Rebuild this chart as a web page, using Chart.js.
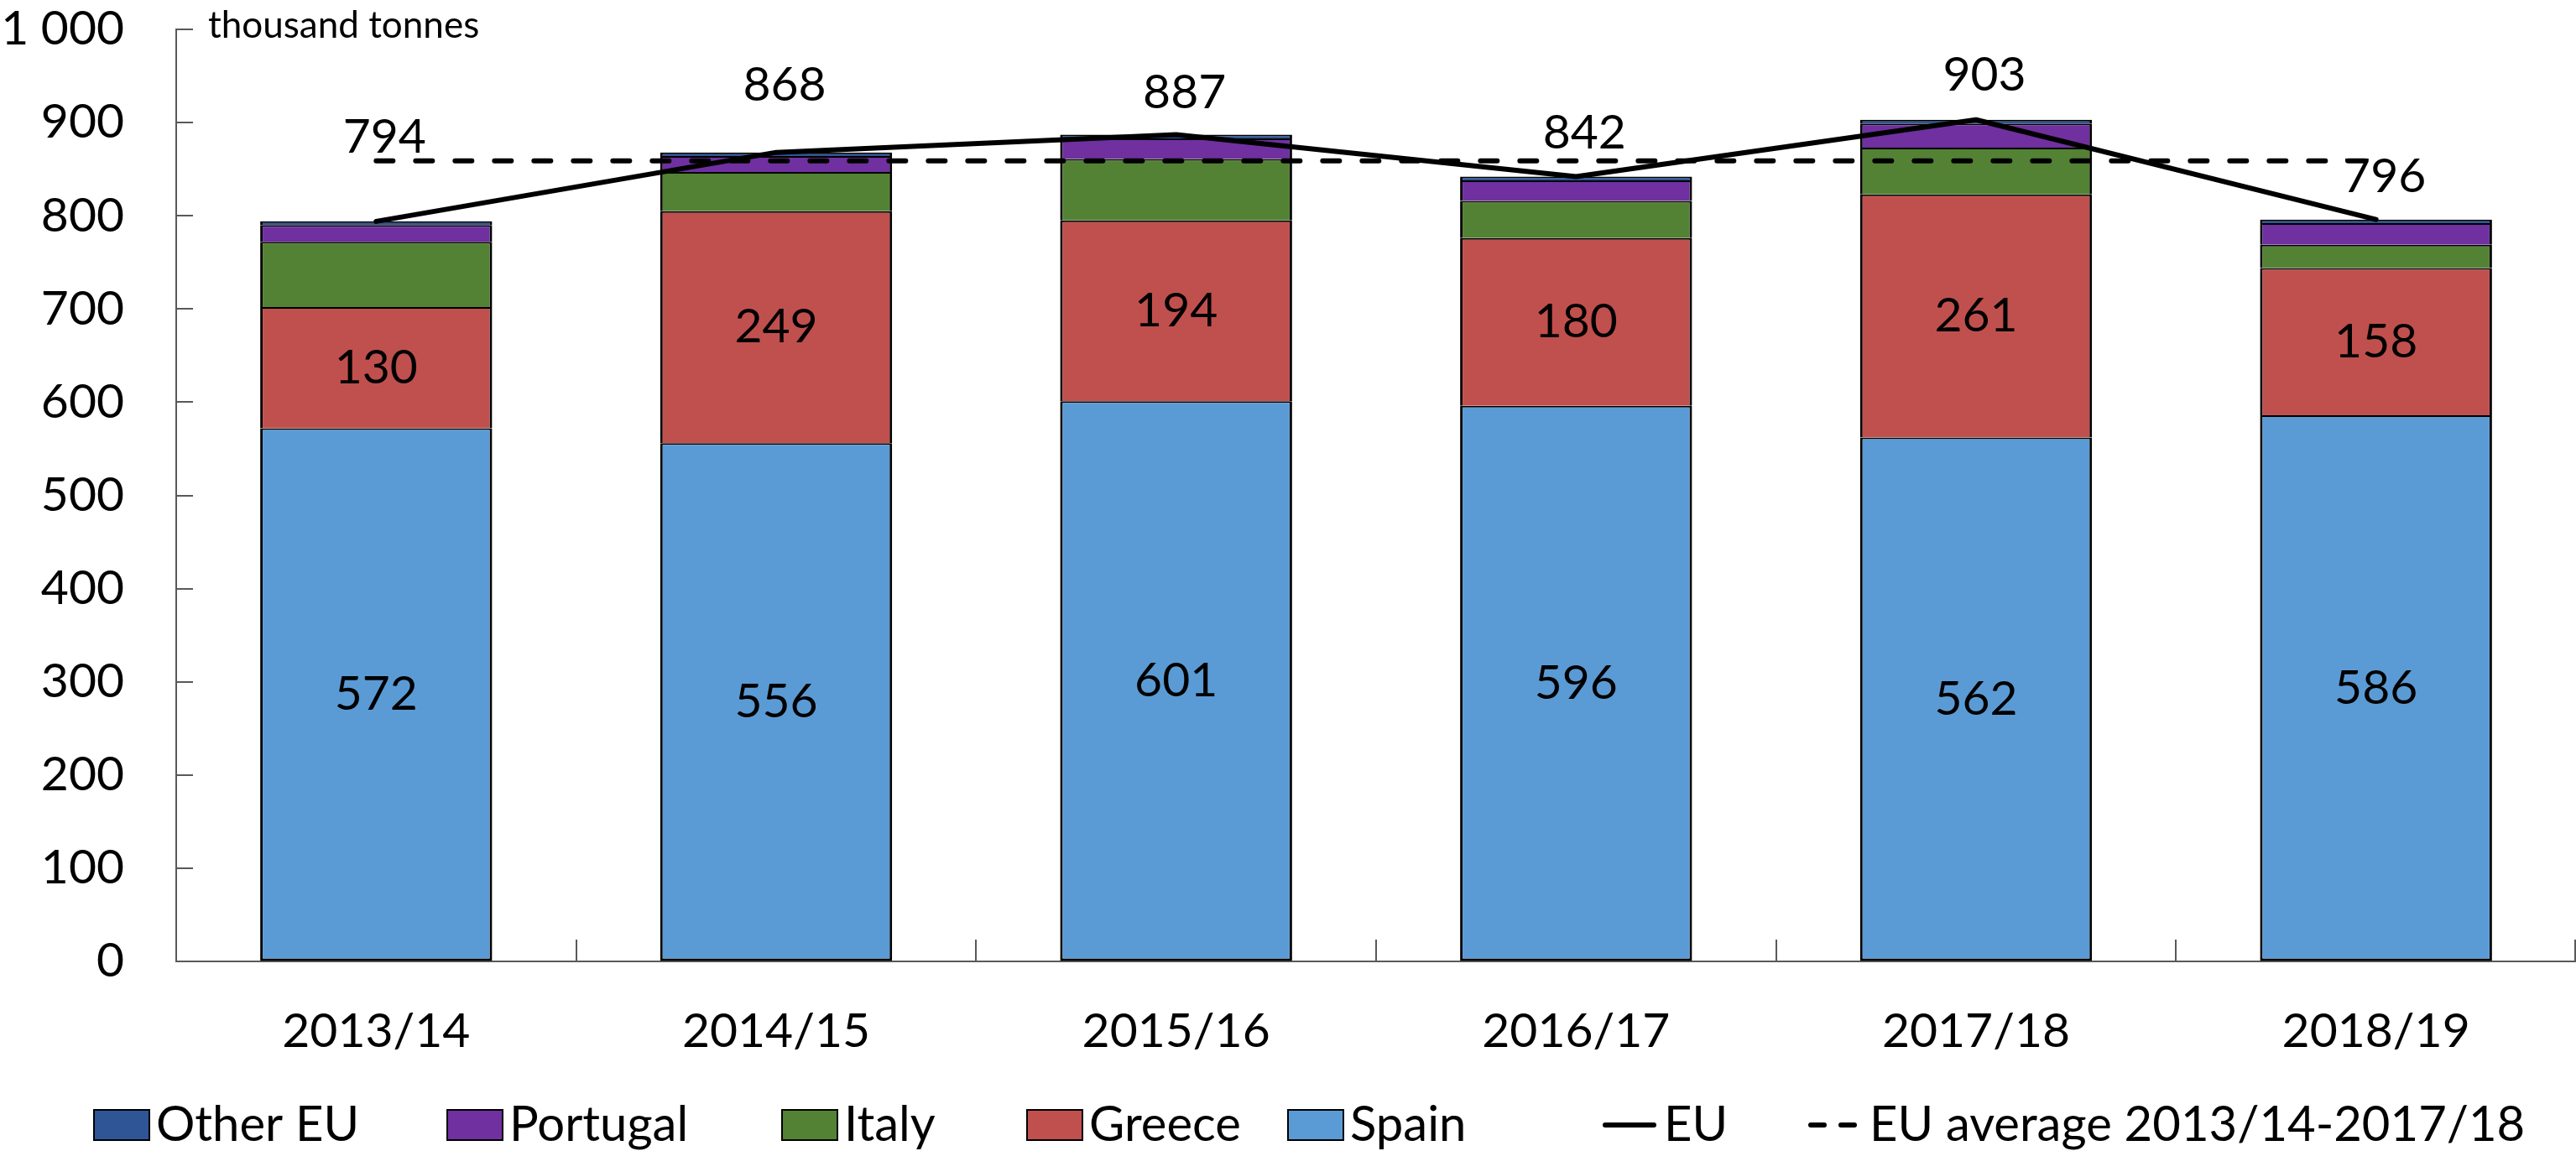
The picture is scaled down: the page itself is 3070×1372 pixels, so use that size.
<!DOCTYPE html>
<html><head><meta charset="utf-8">
<script src="https://cdn.jsdelivr.net/npm/chart.js@4.4.0/dist/chart.umd.min.js"></script>
<style>html,body{margin:0;padding:0;background:#fff;}canvas{display:block;}</style>
</head><body>
<canvas id="c" width="3070" height="1372" style="width:3070px;height:1372px"></canvas>
<script>
// ---- data ----
const categories = ['2013/14', '2014/15', '2015/16', '2016/17', '2017/18', '2018/19'];
const spain     = [572, 556, 601, 596, 562, 586];
const greece    = [130, 249, 194, 180, 261, 158];
const italy     = [70, 42, 66, 40, 50, 25];
const portugal  = [18, 17, 22, 22, 26, 23];
const otherEU   = [4, 4, 4, 4, 4, 4];
const euTotal   = [794, 868, 887, 842, 903, 796];
const euAverage = [859, 859, 859, 859, 859, 859];
const yTickValues = [0, 100, 200, 300, 400, 500, 600, 700, 800, 900, 1000];
const yTickLabels = ['0', '100', '200', '300', '400', '500', '600', '700', '800', '900', '1 000'];
const unitLabel = 'thousand tonnes';
const legendOrder = ['Other EU', 'Portugal', 'Italy', 'Greece', 'Spain', 'EU', 'EU average 2013/14-2017/18'];

const FONT = 'Lato';
const AXIS_COLOR = '#595959';

const barCommon = {
  type: 'bar', stack: 'bars', order: 2,
  borderColor: '#000000', borderWidth: {top: 2, left: 3, right: 3, bottom: 0}, borderSkipped: false,
  barPercentage: 0.58, categoryPercentage: 1.0, pointStyle: 'rect'
};

const data = {
  labels: categories,
  datasets: [
    Object.assign({}, barCommon, {label: 'Spain', data: spain, backgroundColor: '#5B9BD5', showValues: true,
      borderWidth: {top: 2, left: 3, right: 3, bottom: 3}}),
    Object.assign({}, barCommon, {label: 'Greece', data: greece, backgroundColor: '#C0504D', showValues: true}),
    Object.assign({}, barCommon, {label: 'Italy', data: italy, backgroundColor: '#548235'}),
    Object.assign({}, barCommon, {label: 'Portugal', data: portugal, backgroundColor: '#7030A0'}),
    Object.assign({}, barCommon, {label: 'Other EU', data: otherEU, backgroundColor: '#2F5597'}),
    {type: 'line', label: 'EU', data: euTotal, stack: 'eu', order: 0,
     borderColor: '#000000', backgroundColor: '#000000', borderWidth: 6, pointRadius: 0,
     borderCapStyle: 'round', borderJoinStyle: 'round', tension: 0, fill: false, showLineValues: true},
    {type: 'line', label: 'EU average 2013/14-2017/18', data: euAverage, stack: 'avg', order: 1,
     borderColor: '#000000', backgroundColor: '#000000', borderWidth: 6, borderDash: [20, 27], pointRadius: 0,
     borderCapStyle: 'round', tension: 0, fill: false}
  ]
};

// inward tick marks on both axes
const innerTicks = {
  id: 'innerTicks',
  beforeDatasetsDraw(chart) {
    const {ctx, scales: {x, y}} = chart;
    ctx.save();
    ctx.strokeStyle = AXIS_COLOR;
    ctx.lineWidth = 2;
    ctx.beginPath();
    yTickValues.forEach(v => {
      const py = Math.round(y.getPixelForValue(v));
      ctx.moveTo(x.left, py); ctx.lineTo(x.left + 20, py);
    });
    const n = categories.length;
    for (let i = 0; i <= n; i++) {
      const px = Math.round(x.left + (x.right - x.left) * i / n) - (i === n ? 1 : 0);
      ctx.moveTo(px, y.bottom); ctx.lineTo(px, y.bottom - 26);
    }
    ctx.stroke();
    ctx.restore();
  }
};

// value labels
const valueLabels = {
  id: 'valueLabels',
  afterDatasetsDraw(chart, args, opts) {
    const {ctx} = chart;
    ctx.save();
    ctx.fillStyle = '#000';
    ctx.font = '57px ' + FONT;
    ctx.textAlign = 'center';
    ctx.textBaseline = 'middle';
    chart.data.datasets.forEach((ds, di) => {
      const meta = chart.getDatasetMeta(di);
      if (ds.showValues) {
        meta.data.forEach((el, i) => {
          ctx.fillText(String(ds.data[i]), el.x, (el.y + el.base) / 2);
        });
      }
      if (ds.showLineValues) {
        meta.data.forEach((el, i) => {
          const off = opts.lineOffsets[i] || -52;
          ctx.fillText(String(ds.data[i]), el.x + opts.lineDx, el.y + off);
        });
      }
    });
    // unit label
    ctx.textAlign = 'left';
    ctx.textBaseline = 'alphabetic';
    ctx.font = '44px ' + FONT;
    ctx.fillText(unitLabel, opts.unitX, opts.unitY);
    ctx.restore();
  }
};

// custom legend (Excel-like placement)
const customLegend = {
  id: 'customLegend',
  afterDraw(chart, args, opts) {
    const {ctx} = chart;
    ctx.save();
    ctx.font = opts.fontSize + 'px ' + FONT;
    ctx.textBaseline = 'middle';
    ctx.textAlign = 'left';
    const cy = opts.centerY;
    legendOrder.forEach((name, k) => {
      const x = opts.itemX[k];
      const ds = chart.data.datasets.find(d => d.label === name);
      if (ds.type === 'line') {
        ctx.strokeStyle = '#000';
        ctx.lineWidth = ds.borderWidth;
        ctx.lineCap = 'round';
        ctx.setLineDash(ds.borderDash ? [16, 20] : []);
        ctx.beginPath();
        ctx.moveTo(x + 4, cy); ctx.lineTo(x + opts.keyW - 4, cy);
        ctx.stroke();
        ctx.setLineDash([]);
      } else {
        ctx.fillStyle = ds.backgroundColor;
        ctx.fillRect(x, cy - opts.keyH / 2, opts.keyW, opts.keyH);
        ctx.strokeStyle = '#000';
        ctx.lineWidth = 2;
        ctx.strokeRect(x, cy - opts.keyH / 2, opts.keyW, opts.keyH);
      }
      ctx.fillStyle = '#000';
      ctx.fillText(name, x + opts.keyW + opts.textGap, cy);
    });
    ctx.restore();
  }
};

new Chart(document.getElementById('c'), {
  data,
  options: {
    responsive: false,
    animation: false,
    devicePixelRatio: 1,
    layout: {padding: {top: 35, right: 0, bottom: 0, left: 0}},
    plugins: {
      legend: {display: false},
      tooltip: {enabled: false},
      valueLabels: {lineOffsets: [-100, -80, -50, -52, -53, -51], lineDx: 10, unitX: 248, unitY: 45},
      customLegend: {itemX: [112, 533, 932, 1224, 1535, 1909, 2154], centerY: 1341,
                     keyW: 66, keyH: 36, textGap: 8, fontSize: 58}
    },
    scales: {
      x: {
        type: 'category',
        offset: true,
        grid: {display: true, drawOnChartArea: false, drawTicks: false, offset: true},
        border: {display: true, color: AXIS_COLOR, width: 2},
        ticks: {color: '#000', font: {family: FONT, size: 57}, padding: 49, maxRotation: 0, autoSkip: false},
        afterFit(scale) { scale.height = 226; scale.paddingLeft = 0; scale.paddingRight = 0; }
      },
      y: {
        stacked: true,
        min: 0, max: 1000,
        grid: {display: true, drawOnChartArea: false, drawTicks: false},
        border: {display: true, color: AXIS_COLOR, width: 2},
        ticks: {
          stepSize: 100, color: '#000', font: {family: FONT, size: 57}, padding: 62,
          callback: (v) => yTickLabels[yTickValues.indexOf(v)]
        },
        afterFit(scale) { scale.width = 210; scale.paddingTop = 0; scale.paddingBottom = 0; }
      }
    }
  },
  plugins: [innerTicks, valueLabels, customLegend]
});
</script>
</body></html>
